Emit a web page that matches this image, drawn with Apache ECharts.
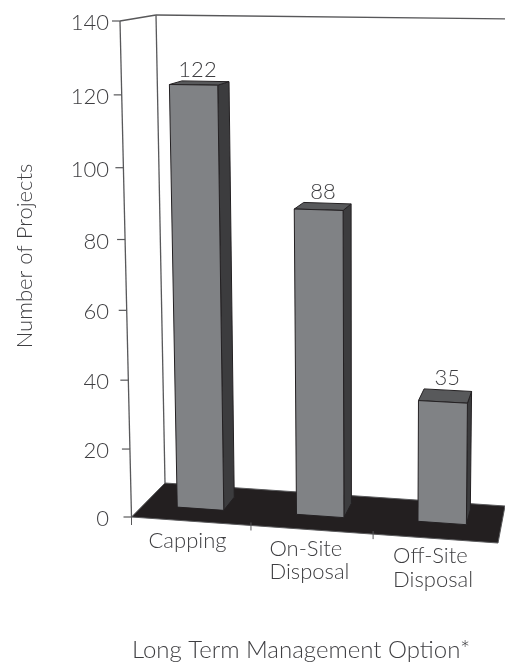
<!DOCTYPE html>
<html><head><meta charset="utf-8">
<style>html,body{margin:0;padding:0;background:#fff}#c{width:505px;height:662px}</style>
<script src="https://cdn.jsdelivr.net/npm/echarts@6/dist/echarts.min.js"></script>
</head><body><div id="c"></div>
<script>
const categories = ['Capping', 'On-Site\nDisposal', 'Off-Site\nDisposal'];
const projects = [122, 88, 35];
const yTicks = [0, 20, 40, 60, 80, 100, 120, 140];
const yTitle = 'Number of Projects';
const xTitle = 'Long Term Management Option*';

const FONT = '300 22px Lato, "Open Sans", sans-serif';
const INK = '#3e3e41', LINE = '#58585a';
const G = {left: 131, right: 7, top: 21, bottom: 145, w: 367, h: 496};

// corners of the chart's box, as drawn in oblique perspective
const C = {
  f0: [[131.5, 517], [498, 543]], b0: [[165, 483], [505, 506]],
  f1: [[120, 21], [503, 22]],     b1: [[156, 15], [512, 19]]
};
const persp = (t, a) => t / (a + (1 - a) * t);
const mix = (p, q, t) => [p[0] + (q[0] - p[0]) * t, p[1] + (q[1] - p[1]) * t];
function warp(px, py, w) {
  const u = persp((px - G.left) / G.w, 1.034), v = persp((G.h + G.top - py) / G.h, 1.05);
  const low = mix(mix(C.f0[0], C.f0[1], u), mix(C.b0[0], C.b0[1], u), w);
  const high = mix(mix(C.f1[0], C.f1[1], u), mix(C.b1[0], C.b1[1], u), w);
  return mix(low, high, v);
}
const poly = (points, fill, stroke, lw) => ({type: 'polygon', shape: {points},
  style: {fill, stroke: stroke || null, lineWidth: lw === undefined ? 1 : lw, lineJoin: 'round'}});
const line = (p, q, lw) => ({type: 'line', shape: {x1: p[0], y1: p[1], x2: q[0], y2: q[1]},
  style: {stroke: LINE, lineWidth: lw || 1.3}});
const label = (text, x, y, align, base) => ({type: 'text', style: {text, x, y, fill: INK, font: FONT,
  textAlign: align, textVerticalAlign: base}});

function renderFrame(params, api) {
  const z = api.coord([0, 0]), band = api.size([1, 0])[0], t = api.coord([0, 140]);
  const L = z[0] - band / 2, R = L + band * 3, B = z[1], T = t[1];
  const kids = [
    poly([warp(L, B, 0), warp(R, B, 0), warp(R, B, 1), warp(L, B, 1)], '#231f20', '#5a5a5c', 1),
    line(warp(L, B, 0), warp(L, T, 0)),
    line(warp(L, T, 0), warp(L, T, 1)),
    line(warp(L, T, 1), warp(L, B, 1)),
    line(warp(L, T, 1), warp(R, T, 1))
  ];
  [0, 1, 2].forEach(i => {
    const p = warp(L + band * i, B, 0);
    kids.push(line([p[0], p[1] - (i ? 3 : 0)], [p[0], p[1] + (i ? 5 : 8)], 1));
  });
  return {type: 'group', children: kids};
}
function renderYTick(params, api) {
  const val = api.value(1), c = api.coord([0, val]), band = api.size([1, 0])[0];
  const p = warp(c[0] - band / 2, c[1], 0);
  return {type: 'group', children: [
    line([p[0] - 8, p[1]], p, 1.2),
    label(String(val), 109, p[1] + 2, 'right', 'middle')
  ]};
}
function renderCat(params, api) {
  const i = api.value(0), c = api.coord([i, 0]), band = api.size([1, 0])[0];
  const p = warp(c[0] - band / 2, c[1], 0);
  const lines = categories[i].split('\n');
  return {type: 'group', children: lines.map((s, k) =>
    label(s, p[0] + 17 + i * 1.5, p[1] + 24 - i + k * 23.5, 'left', 'middle'))};
}
function renderBar(params, api) {
  const i = api.value(0), val = api.value(1), c = api.coord([i, val]), z = api.coord([i, 0]);
  const band = api.size([1, 0])[0], hw = band * 0.2;
  const w0 = [0.36, 0.39, 0.43][i], w1 = [0.74, 0.79, 0.84][i];
  const cx = c[0] + i * 1.5 - 1;
  const l = cx - hw, r = cx + hw, top = c[1], bot = z[1];
  const fl = warp(l, top, w0), fr = warp(r, top, w0), bl = warp(l, top, w1), br = warp(r, top, w1);
  const fbl = warp(l, bot, w0), fbr = warp(r, bot, w0), bbr = warp(r, bot, w1);
  const mid = warp(cx, top, (w0 + w1) / 2);
  return {type: 'group', children: [
    poly([fr, br, bbr, fbr], '#3c3c3e', '#232022', 1),
    poly([fl, fr, br, bl], '#58595b', '#232022', 1),
    poly([fl, fr, fbr, fbl], '#808285', '#232022', 1),
    label(String(val), mid[0] + (i - 1) * 2, bl[1], 'center', 'bottom')
  ]};
}

const chart = echarts.init(document.getElementById('c'), null, {renderer: 'canvas'});
const custom = (renderItem, data) => ({type: 'custom', renderItem, data, clip: false, silent: true,
  encode: {x: 0, y: 1}, animation: false});
chart.setOption({
  animation: false,
  grid: {left: G.left, right: G.right, top: G.top, bottom: G.bottom},
  xAxis: {type: 'category', data: categories, axisLine: {show: false}, axisTick: {show: false},
    axisLabel: {show: false}, splitLine: {show: false}},
  yAxis: {type: 'value', min: 0, max: 140, interval: 20, axisLine: {show: false}, axisTick: {show: false},
    axisLabel: {show: false}, splitLine: {show: false}},
  graphic: [
    {type: 'text', x: 25, y: 256, rotation: Math.PI / 2, silent: true,
      style: {text: yTitle, fill: INK, font: FONT, textAlign: 'center', textVerticalAlign: 'middle'}},
    {type: 'text', x: 301, y: 650, silent: true,
      style: {text: xTitle, fill: INK, font: '300 24px Lato, "Open Sans", sans-serif', textAlign: 'center', textVerticalAlign: 'middle'}}
  ],
  series: [
    custom(renderFrame, [[0, 0]]),
    custom(renderYTick, yTicks.map(v => [0, v])),
    custom(renderCat, categories.map((_, i) => [i, 0])),
    custom(renderBar, projects.map((v, i) => [i, v]))
  ]
});
</script></body></html>
